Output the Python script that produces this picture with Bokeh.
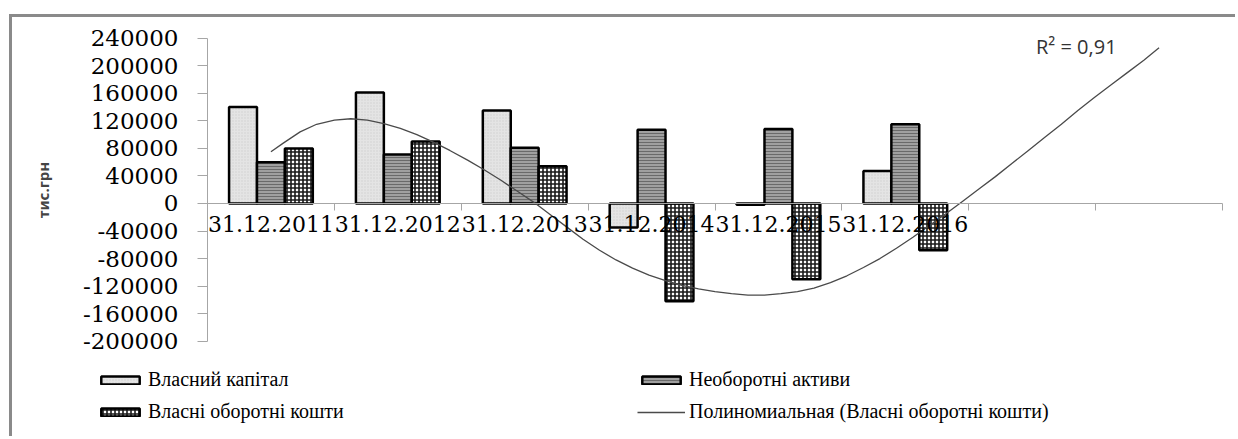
from bokeh.plotting import figure
from bokeh.models import (LinearAxis, FixedTicker, Range1d, Legend, LegendItem, Label,
                          AllLabels, ColumnDataSource)
from bokeh.transform import dodge
from bokeh.embed import file_html
from bokeh.resources import INLINE

# ---- data -------------------------------------------------------------
dates = ["31.12.2011", "31.12.2012", "31.12.2013", "31.12.2014", "31.12.2015", "31.12.2016"]
forecast_periods = 2  # empty categories the trend line is extended into

vlasnyi_kapital = [140000, 161000, 135000, -35000, -2000, 47000]
neoborotni_aktyvy = [60000, 71000, 81000, 107000, 108000, 115000]
vlasni_oborotni = [80000, 90000, 54000, -142000, -110000, -68000]

# polynomial trend line of "Власні оборотні кошти"
trend_x = [1.00, 1.10, 1.23, 1.36, 1.50, 1.63, 1.76, 1.89, 2.02, 2.15, 2.28, 2.41, 2.55,
           2.68, 2.81, 2.94, 3.07, 3.20, 3.33, 3.46, 3.59, 3.72, 3.85, 3.98, 4.11, 4.24,
           4.37, 4.50, 4.63, 4.76, 4.89, 5.02, 5.15, 5.28, 5.41, 5.54, 5.67, 5.80, 5.93,
           6.06, 6.19, 6.32, 6.45, 6.58, 6.71, 6.84, 6.97, 7.10, 7.23, 7.36, 7.49, 7.62,
           7.75, 7.88, 8.00]
trend_y = [75000, 88000, 104000, 115000, 121000, 123000, 121000, 116000, 109000, 100000,
           89000, 77000, 63000, 49000, 34000, 18000, 2000, -16000, -34000, -52000, -68000,
           -82000, -94000, -104000, -112000, -119000, -124000, -128000, -131000, -133000,
           -133000, -131000, -128000, -123000, -115000, -105000, -93000, -80000, -65000,
           -49000, -32000, -15000, 3000, 21000, 39000, 58000, 77000, 96000, 115000, 135000,
           154000, 172000, 190000, 208000, 226000]

r2_text = "R² = 0,91"
y_ticks = [-200000, -160000, -120000, -80000, -40000, 0, 40000, 80000, 120000, 160000,
           200000, 240000]
y_label = "тис.грн"
series_names = ["Власний капітал", "Необоротні активи", "Власні оборотні кошти",
                "Полиномиальная (Власні оборотні кошти)"]

# ---- layout constants (pixels inside the canvas) ------------------------
W, H = 1226, 422
AX_LEFT, AX_RIGHT = 195, 1210      # x pixel of category-axis start / end
AX_TOP, AX_BOTTOM = 20.7, 323.7    # y pixel of value-axis top / bottom

n_cat = len(dates) + forecast_periods
ppx = (AX_RIGHT - AX_LEFT) / n_cat
x_start = 0.5 - AX_LEFT / ppx
x_end = x_start + W / ppx
y_lo, y_hi = min(y_ticks), max(y_ticks)
ppy = (AX_BOTTOM - AX_TOP) / (y_hi - y_lo)
y_end = y_hi + AX_TOP / ppy
y_start = y_end - H / ppy

x_pos = list(range(1, len(dates) + 1))
src = ColumnDataSource(dict(x=x_pos, vk=vlasnyi_kapital, na=neoborotni_aktyvy,
                            vok=vlasni_oborotni))

p = figure(width=W, height=H,
           x_range=Range1d(x_start, x_end), y_range=Range1d(y_start, y_end),
           output_backend="svg", toolbar_location=None,
           min_border_left=0, min_border_right=0, min_border_top=0, min_border_bottom=0,
           outline_line_color=None, background_fill_color="white",
           border_fill_color="white")
p.margin = (14, 0, 0, 9)
p.styles = {"border-left": "3px solid #8a8a8a", "border-top": "3px solid #8a8a8a"}
p.xgrid.visible = False
p.ygrid.visible = False

bw = 0.22
r1 = p.vbar(x=dodge("x", -bw, range=p.x_range), top="vk", bottom=0, width=bw, source=src,
            fill_color="#e4e4e4", line_color="black", line_width=2.5,
            hatch_pattern="dot", hatch_color="#cfcfcf", hatch_scale=3, hatch_weight=1)
r2 = p.vbar(x="x", top="na", bottom=0, width=bw, source=src,
            fill_color="#a0a0a0", line_color="black", line_width=2.5,
            hatch_pattern="horizontal_line", hatch_color="#6a6a6a", hatch_scale=3,
            hatch_weight=1)
r3 = p.vbar(x=dodge("x", bw, range=p.x_range), top="vok", bottom=0, width=bw, source=src,
            fill_color="white", line_color="black", line_width=2.5,
            hatch_pattern="cross", hatch_color="#1a1a1a", hatch_scale=4, hatch_weight=1.6)
rt = p.line(trend_x, trend_y, line_color="#4a4a4a", line_width=1.3)

# ---- axes ---------------------------------------------------------------
ax = p.xaxis[0]
ax.fixed_location = 0
ax.bounds = (0.5, n_cat + 0.5)
ax.ticker = FixedTicker(ticks=[i + 0.5 for i in range(n_cat + 1)])
ax.axis_line_color = "#a6a6a6"
ax.major_tick_line_color = "#a6a6a6"
ax.major_tick_out = 7
ax.major_tick_in = 0
ax.minor_tick_line_color = None
ax.major_label_text_color = None

labels = {i + 1: (dates[i] if i < len(dates) else "") for i in range(n_cat)}
lab_axis = LinearAxis(fixed_location=0,
                      ticker=FixedTicker(ticks=list(range(1, n_cat + 1))),
                      major_label_overrides=labels,
                      axis_line_color=None, major_tick_line_color=None,
                      minor_tick_line_color=None, major_tick_out=0, major_tick_in=0,
                      major_label_standoff=13,
                      major_label_text_font="DejaVu Serif",
                      major_label_text_font_size="22px",
                      major_label_text_color="black",
                      major_label_policy=AllLabels())
p.add_layout(lab_axis, "below")

yax = p.yaxis[0]
yax.fixed_location = 0.5
yax.bounds = (y_lo, y_hi)
yax.ticker = FixedTicker(ticks=y_ticks)
yax.major_label_overrides = {t: str(t) for t in y_ticks}
yax.axis_line_color = "#a6a6a6"
yax.major_tick_line_color = "#a6a6a6"
yax.major_tick_out = 10
yax.major_tick_in = 0
yax.minor_tick_line_color = None
yax.major_label_standoff = 19
yax.major_label_text_font = "DejaVu Serif"
yax.major_label_text_font_size = "23px"
yax.major_label_text_color = "black"
yax.major_label_policy = AllLabels()
yax.axis_label = y_label
yax.axis_label_text_font = "Noto Sans"
yax.axis_label_text_font_style = "bold"
yax.axis_label_text_font_size = "15px"
yax.axis_label_standoff = 27

# ---- R^2 label ----------------------------------------------------------
p.add_layout(Label(x=7.03, y=228000, text=r2_text, text_font="Open Sans",
                   text_font_size="20px", text_baseline="middle", text_align="left",
                   text_color="#333333"))

# ---- legends ------------------------------------------------------------
def make_legend(items, loc):
    return Legend(items=items, location=loc, orientation="vertical",
                  border_line_color=None, background_fill_alpha=0,
                  padding=0, margin=0, spacing=9, glyph_width=48, glyph_height=10,
                  label_height=20, label_standoff=4,
                  label_text_font="Liberation Serif", label_text_font_size="20px",
                  label_text_color="black")

leg1 = make_legend([LegendItem(label=series_names[0], renderers=[r1]),
                    LegendItem(label=series_names[2], renderers=[r3])], (84, 16))
leg2 = make_legend([LegendItem(label=series_names[1], renderers=[r2]),
                    LegendItem(label=series_names[3], renderers=[rt])], (625, 16))
p.add_layout(leg1)
p.add_layout(leg2)

open("out.html", "w").write(file_html(p, INLINE))
